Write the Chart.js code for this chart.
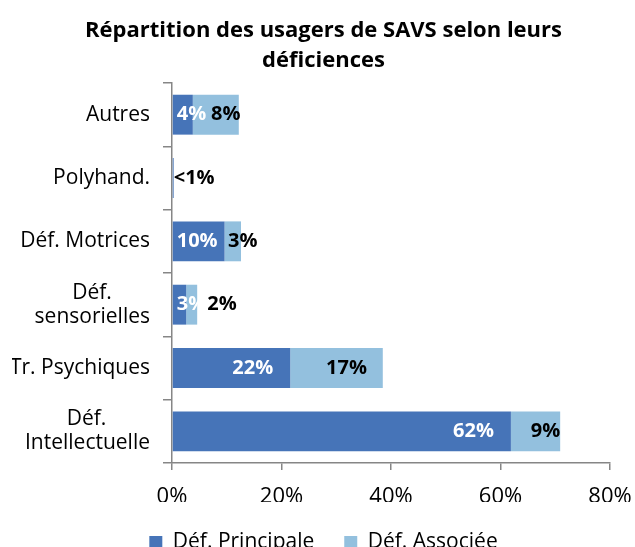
<!DOCTYPE html>
<html>
<head>
<meta charset="utf-8">
<script src="https://cdn.jsdelivr.net/npm/chart.js@4.4.0/dist/chart.umd.min.js"></script>
<style>
html, body { margin: 0; padding: 0; background: #fff; overflow: hidden; }
canvas { display: block; }
</style>
</head>
<body>
<canvas id="chart" width="635" height="563"></canvas>
<script>
const categories = ['Autres', 'Polyhand.', 'Déf. Motrices', ['Déf.', 'sensorielles'], 'Tr. Psychiques', ['Déf.', 'Intellectuelle']];
const principale = [3.8, 0.3, 9.6, 2.6, 21.6, 61.9];
const associee = [8.4, 0, 3.0, 2.0, 16.9, 9.0];
const seriesNames = ['Déf. Principale', 'Déf. Associée'];

const FONT = "'Open Sans', 'Noto Sans', sans-serif";
const AXIS_GREY = '#868686';
const CAT_SIZE = 21;

// centre les libelles sur deux lignes (comme Excel)
const measureCtx = document.createElement('canvas').getContext('2d');
function centerLines(lbl) {
    if (!Array.isArray(lbl)) return lbl;
    measureCtx.font = CAT_SIZE + 'px ' + FONT;
    const widths = lbl.map(l => measureCtx.measureText(l).width);
    const widest = Math.max(...widths);
    const sp = measureCtx.measureText('\u00a0').width;
    return lbl.map((l, i) => l + '\u00a0'.repeat(Math.round((widest - widths[i]) / 2 / sp)));
}

// valeurs écrites sur les barres
const barLabels = {
    id: 'barLabels',
    afterDatasetsDraw(chart) {
        const ctx = chart.ctx;
        const m0 = chart.getDatasetMeta(0);
        const m1 = chart.getDatasetMeta(1);
        ctx.save();
        ctx.font = 'bold 20px ' + FONT;
        ctx.textBaseline = 'middle';
        ctx.textAlign = 'left';
        m0.data.forEach((bar, i) => {
            const v = principale[i];
            let right0;
            if (v < 1) {
                const t = '<1%';
                ctx.fillStyle = '#000';
                ctx.fillText(t, bar.base + 1, bar.y);
                right0 = bar.base + 1 + ctx.measureText(t).width;
            } else {
                const t = Math.round(v) + '%';
                const w = ctx.measureText(t).width;
                const left = Math.max(bar.x - 17 - w, bar.base + 4);
                ctx.fillStyle = '#fff';
                ctx.fillText(t, left, bar.y);
                right0 = left + w;
            }
            const v1 = associee[i];
            if (v1 >= 1) {
                const b1 = m1.data[i];
                const t1 = Math.round(v1) + '%';
                const w1 = ctx.measureText(t1).width;
                let left1 = (b1.base + b1.x) / 2 + 10 - w1 / 2;
                left1 = Math.max(left1, right0 + 1);
                ctx.fillStyle = '#000';
                ctx.fillText(t1, left1, b1.y);
            }
        });
        ctx.restore();
    }
};

new Chart(document.getElementById('chart').getContext('2d'), {
    type: 'bar',
    data: {
        labels: categories,
        datasets: [{
            label: seriesNames[0],
            data: principale,
            backgroundColor: '#4674B8',
            barPercentage: 0.9,
            categoryPercentage: 0.7
        }, {
            label: seriesNames[1],
            data: associee,
            backgroundColor: '#93C0DE',
            barPercentage: 0.9,
            categoryPercentage: 0.7
        }]
    },
    options: {
        indexAxis: 'y',
        responsive: false,
        animation: false,
        layout: { padding: { left: 12, right: 0, top: 0, bottom: 0 } },
        scales: {
            x: {
                stacked: true,
                min: 0,
                max: 80,
                ticks: {
                    stepSize: 20,
                    color: '#000',
                    font: { family: FONT, size: 22 },
                    padding: 14,
                    callback: v => v + '%'
                },
                grid: { drawOnChartArea: false, drawTicks: true, tickLength: 7, color: AXIS_GREY, lineWidth: 1.5 },
                border: { display: true, color: AXIS_GREY, width: 1.5 },
                afterFit: scale => {
                    scale.height = 39;
                    scale.paddingRight = 25;
                }
            },
            y: {
                stacked: true,
                ticks: {
                    color: '#000',
                    font: { family: FONT, size: CAT_SIZE, lineHeight: 1.15 },
                    padding: 13,
                    callback: function (value) {
                        return centerLines(categories[value]);
                    }
                },
                grid: { drawOnChartArea: false, drawTicks: true, tickLength: 9, color: AXIS_GREY, lineWidth: 1.5, offset: true },
                border: { display: true, color: AXIS_GREY, width: 1.5 },
                afterFit: scale => { scale.width = 160; }
            }
        },
        plugins: {
            title: {
                display: true,
                text: ['Répartition des usagers de SAVS selon leurs', 'déficiences'],
                color: '#000',
                font: { family: FONT, size: 22, weight: 'bold', lineHeight: 1.364 },
                padding: { top: 16, bottom: 7 }
            },
            legend: {
                position: 'bottom',
                labels: {
                    color: '#000',
                    font: { family: FONT, size: 21 },
                    boxWidth: 13,
                    boxHeight: 13,
                    padding: 30
                }
            },
            tooltip: { enabled: false }
        }
    },
    plugins: [barLabels]
});
</script>
</body>
</html>
